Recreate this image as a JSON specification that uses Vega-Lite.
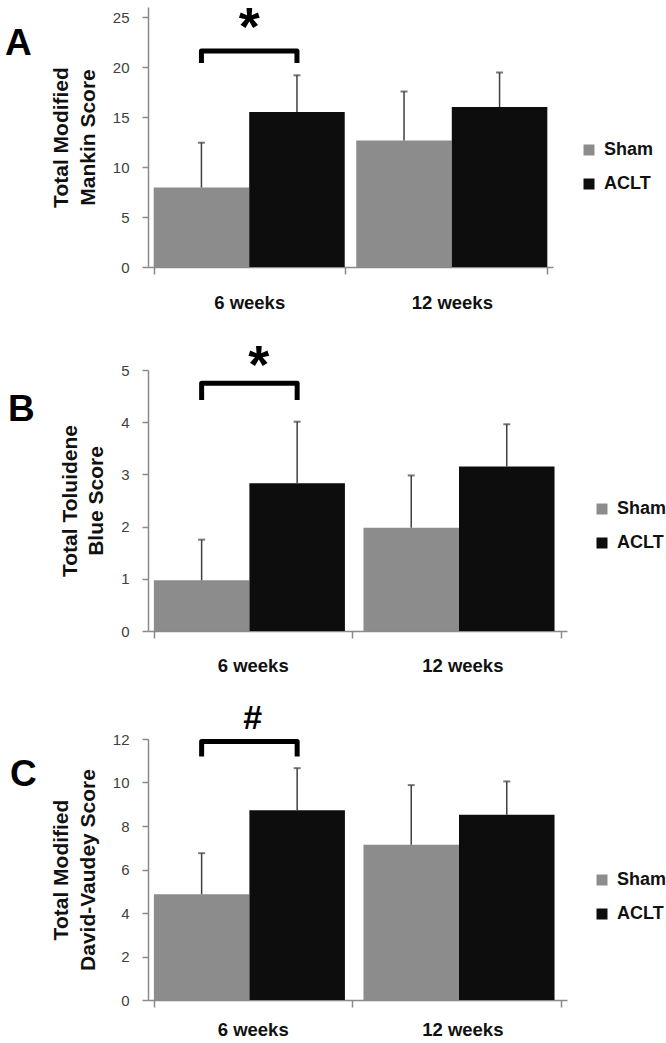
{
  "$schema": "https://vega.github.io/schema/vega-lite/v6.json",
  "padding": {"left": 5, "top": 2, "right": 0, "bottom": 0},
  "autosize": {"type": "pad"},
  "spacing": 27,
  "resolve": {"scale": {"color": "independent"}, "legend": {"color": "independent"}},
  "config": {"view": {"stroke": null}, "font": "Liberation Sans"},
  "datasets": {
    "A": [
      {"week": "6 weeks", "group": "Sham", "mean": 7.95, "upper": 12.43},
      {"week": "6 weeks", "group": "ACLT", "mean": 15.51, "upper": 19.17},
      {"week": "12 weeks", "group": "Sham", "mean": 12.66, "upper": 17.56},
      {"week": "12 weeks", "group": "ACLT", "mean": 15.99, "upper": 19.45}
    ],
    "B": [
      {"week": "6 weeks", "group": "Sham", "mean": 0.97, "upper": 1.75},
      {"week": "6 weeks", "group": "ACLT", "mean": 2.83, "upper": 4.01},
      {"week": "12 weeks", "group": "Sham", "mean": 1.98, "upper": 2.98},
      {"week": "12 weeks", "group": "ACLT", "mean": 3.15, "upper": 3.96}
    ],
    "C": [
      {"week": "6 weeks", "group": "Sham", "mean": 4.86, "upper": 6.75},
      {"week": "6 weeks", "group": "ACLT", "mean": 8.72, "upper": 10.66},
      {"week": "12 weeks", "group": "Sham", "mean": 7.14, "upper": 9.88},
      {"week": "12 weeks", "group": "ACLT", "mean": 8.52, "upper": 10.05}
    ],
    "bracketA": [
      {"week": "6 weeks", "group": "Sham", "y": 20.41, "step": 1},
      {"week": "6 weeks", "group": "Sham", "y": 21.6, "step": 2},
      {"week": "6 weeks", "group": "ACLT", "y": 21.6, "step": 3},
      {"week": "6 weeks", "group": "ACLT", "y": 20.41, "step": 4}
    ],
    "bracketB": [
      {"week": "6 weeks", "group": "Sham", "y": 4.425, "step": 1},
      {"week": "6 weeks", "group": "Sham", "y": 4.745, "step": 2},
      {"week": "6 weeks", "group": "ACLT", "y": 4.745, "step": 3},
      {"week": "6 weeks", "group": "ACLT", "y": 4.425, "step": 4}
    ],
    "bracketC": [
      {"week": "6 weeks", "group": "Sham", "y": 11.2, "step": 1},
      {"week": "6 weeks", "group": "Sham", "y": 11.89, "step": 2},
      {"week": "6 weeks", "group": "ACLT", "y": 11.89, "step": 3},
      {"week": "6 weeks", "group": "ACLT", "y": 11.2, "step": 4}
    ],
    "markA": [{"week": "6 weeks", "y": 22.2, "label": "*"}],
    "markB": [{"week": "6 weeks", "y": 4.76, "label": "*"}],
    "markC": [{"week": "6 weeks", "y": 12.44, "label": "#"}]
  },
  "vconcat": [
    {
      "width": 405, "height": 260,
      "title": {"text": "A", "anchor": "start", "frame": "group", "baseline": "alphabetic", "dx": -143, "dy": 90, "offset": 0, "fontSize": 37, "font": "Liberation Sans", "fontWeight": "bold", "color": "#000"},
      "layer": [
        {
          "data": {"name": "A"},
          "mark": {"type": "bar", "strokeWidth": 0},
          "encoding": {
            "x": {"field": "week", "type": "nominal", "scale": {"domain": ["6 weeks", "12 weeks"], "paddingInner": 0.057, "paddingOuter": 0.028},
              "axis": {"title": null, "labelAngle": 0, "tickBand": "extent", "domainColor": "#8a8a8a", "domainWidth": 1.5, "tickColor": "#8a8a8a", "tickWidth": 1.5, "tickSize": 7, "labelFont": "Liberation Sans", "labelFontWeight": "bold", "labelFontSize": 18.5, "labelColor": "#111", "labelPadding": 19}},
            "xOffset": {"field": "group", "type": "nominal", "scale": {"domain": ["Sham", "ACLT"], "paddingInner": 0, "paddingOuter": 0}},
            "y": {"field": "mean", "type": "quantitative", "scale": {"domain": [0, 25]},
              "axis": {"values": [0, 5, 10, 15, 20, 25], "grid": false, "domainColor": "#8a8a8a", "domainWidth": 1.5, "tickColor": "#8a8a8a", "tickWidth": 1.5, "tickSize": 6, "labelFont": "Liberation Sans", "labelFontSize": 15, "labelColor": "#404040", "labelPadding": 13, "title": ["Total Modified", "Mankin Score"], "titleFont": "Liberation Sans", "titleFontSize": 21, "titleFontWeight": "bold", "titleColor": "#111", "titlePadding": 14, "titleLineHeight": 26.6}},
            "color": {"field": "group", "type": "nominal", "scale": {"domain": ["Sham", "ACLT"], "range": ["#8c8c8c", "#0d0d0d"]},
              "legend": {"orient": "none", "legendX": 432, "legendY": 134, "title": null, "symbolType": "square", "symbolSize": 121, "symbolStrokeWidth": 0, "symbolOpacity": 1, "labelFont": "Liberation Sans", "labelFontSize": 18, "labelFontWeight": "bold", "labelColor": "#111", "rowPadding": 16, "labelOffset": 6, "padding": 0}}
          }
        },
        {
          "data": {"name": "A"},
          "mark": {"type": "rule", "color": "#404040", "strokeWidth": 1.5},
          "encoding": {
            "x": {"field": "week", "type": "nominal"},
            "xOffset": {"field": "group", "type": "nominal"},
            "y": {"field": "mean", "type": "quantitative"},
            "y2": {"field": "upper"}
          }
        },
        {
          "data": {"name": "A"},
          "mark": {"type": "tick", "color": "#404040", "thickness": 2, "size": 7, "orient": "horizontal"},
          "encoding": {
            "x": {"field": "week", "type": "nominal"},
            "xOffset": {"field": "group", "type": "nominal"},
            "y": {"field": "upper", "type": "quantitative"}
          }
        },
        {
          "data": {"name": "bracketA"},
          "mark": {"type": "line", "color": "#000", "strokeWidth": 5, "strokeJoin": "round", "strokeCap": "butt"},
          "encoding": {
            "x": {"field": "week", "type": "nominal"},
            "xOffset": {"field": "group", "type": "nominal"},
            "y": {"field": "y", "type": "quantitative"},
            "order": {"field": "step", "type": "quantitative"}
          }
        },
        {
          "data": {"name": "markA"},
          "mark": {"type": "text", "font": "Liberation Sans", "fontWeight": "bold", "fontSize": 54, "baseline": "alphabetic", "color": "#000"},
          "encoding": {
            "x": {"field": "week", "type": "nominal"},
            "y": {"field": "y", "type": "quantitative"},
            "text": {"field": "label"}
          }
        }
      ]
    },
    {
      "width": 419, "height": 261,
      "title": {"text": "B", "anchor": "start", "frame": "group", "baseline": "alphabetic", "dx": -140, "dy": 118, "offset": 0, "fontSize": 37, "font": "Liberation Sans", "fontWeight": "bold", "color": "#000"},
      "layer": [
        {
          "data": {"name": "B"},
          "mark": {"type": "bar", "strokeWidth": 0},
          "encoding": {
            "x": {"field": "week", "type": "nominal", "scale": {"domain": ["6 weeks", "12 weeks"], "paddingInner": 0.057, "paddingOuter": 0.028},
              "axis": {"title": null, "labelAngle": 0, "tickBand": "extent", "domainColor": "#8a8a8a", "domainWidth": 1.5, "tickColor": "#8a8a8a", "tickWidth": 1.5, "tickSize": 7, "labelFont": "Liberation Sans", "labelFontWeight": "bold", "labelFontSize": 18.5, "labelColor": "#111", "labelPadding": 18}},
            "xOffset": {"field": "group", "type": "nominal", "scale": {"domain": ["Sham", "ACLT"], "paddingInner": 0, "paddingOuter": 0}},
            "y": {"field": "mean", "type": "quantitative", "scale": {"domain": [0, 5]},
              "axis": {"values": [0, 1, 2, 3, 4, 5], "grid": false, "domainColor": "#8a8a8a", "domainWidth": 1.5, "tickColor": "#8a8a8a", "tickWidth": 1.5, "tickSize": 6, "labelFont": "Liberation Sans", "labelFontSize": 15, "labelColor": "#404040", "labelPadding": 13, "title": ["Total Toluidene", "Blue Score"], "titleFont": "Liberation Sans", "titleFontSize": 21, "titleFontWeight": "bold", "titleColor": "#111", "titlePadding": 14, "titleLineHeight": 26.6}},
            "color": {"field": "group", "type": "nominal", "scale": {"domain": ["Sham", "ACLT"], "range": ["#8c8c8c", "#0d0d0d"]},
              "legend": {"orient": "none", "legendX": 445, "legendY": 130, "title": null, "symbolType": "square", "symbolSize": 121, "symbolStrokeWidth": 0, "symbolOpacity": 1, "labelFont": "Liberation Sans", "labelFontSize": 18, "labelFontWeight": "bold", "labelColor": "#111", "rowPadding": 16, "labelOffset": 6, "padding": 0}}
          }
        },
        {
          "data": {"name": "B"},
          "mark": {"type": "rule", "color": "#404040", "strokeWidth": 1.5},
          "encoding": {
            "x": {"field": "week", "type": "nominal"},
            "xOffset": {"field": "group", "type": "nominal"},
            "y": {"field": "mean", "type": "quantitative"},
            "y2": {"field": "upper"}
          }
        },
        {
          "data": {"name": "B"},
          "mark": {"type": "tick", "color": "#404040", "thickness": 2, "size": 7, "orient": "horizontal"},
          "encoding": {
            "x": {"field": "week", "type": "nominal"},
            "xOffset": {"field": "group", "type": "nominal"},
            "y": {"field": "upper", "type": "quantitative"}
          }
        },
        {
          "data": {"name": "bracketB"},
          "mark": {"type": "line", "color": "#000", "strokeWidth": 5, "strokeJoin": "round", "strokeCap": "butt"},
          "encoding": {
            "x": {"field": "week", "type": "nominal"},
            "xOffset": {"field": "group", "type": "nominal"},
            "y": {"field": "y", "type": "quantitative"},
            "order": {"field": "step", "type": "quantitative"}
          }
        },
        {
          "data": {"name": "markB"},
          "mark": {"type": "text", "font": "Liberation Sans", "fontWeight": "bold", "fontSize": 54, "baseline": "alphabetic", "color": "#000", "dx": 6},
          "encoding": {
            "x": {"field": "week", "type": "nominal"},
            "y": {"field": "y", "type": "quantitative"},
            "text": {"field": "label"}
          }
        }
      ]
    },
    {
      "width": 419, "height": 261,
      "title": {"text": "C", "anchor": "start", "frame": "group", "baseline": "alphabetic", "dx": -138, "dy": 121, "offset": 0, "fontSize": 37, "font": "Liberation Sans", "fontWeight": "bold", "color": "#000"},
      "layer": [
        {
          "data": {"name": "C"},
          "mark": {"type": "bar", "strokeWidth": 0},
          "encoding": {
            "x": {"field": "week", "type": "nominal", "scale": {"domain": ["6 weeks", "12 weeks"], "paddingInner": 0.057, "paddingOuter": 0.028},
              "axis": {"title": null, "labelAngle": 0, "tickBand": "extent", "domainColor": "#8a8a8a", "domainWidth": 1.5, "tickColor": "#8a8a8a", "tickWidth": 1.5, "tickSize": 7, "labelFont": "Liberation Sans", "labelFontWeight": "bold", "labelFontSize": 18.5, "labelColor": "#111", "labelPadding": 13}},
            "xOffset": {"field": "group", "type": "nominal", "scale": {"domain": ["Sham", "ACLT"], "paddingInner": 0, "paddingOuter": 0}},
            "y": {"field": "mean", "type": "quantitative", "scale": {"domain": [0, 12]},
              "axis": {"values": [0, 2, 4, 6, 8, 10, 12], "grid": false, "domainColor": "#8a8a8a", "domainWidth": 1.5, "tickColor": "#8a8a8a", "tickWidth": 1.5, "tickSize": 6, "labelFont": "Liberation Sans", "labelFontSize": 15, "labelColor": "#404040", "labelPadding": 13, "title": ["Total Modified", "David-Vaudey Score"], "titleFont": "Liberation Sans", "titleFontSize": 21, "titleFontWeight": "bold", "titleColor": "#111", "titlePadding": 14, "titleLineHeight": 26.6}},
            "color": {"field": "group", "type": "nominal", "scale": {"domain": ["Sham", "ACLT"], "range": ["#8c8c8c", "#0d0d0d"]},
              "legend": {"orient": "none", "legendX": 445, "legendY": 132, "title": null, "symbolType": "square", "symbolSize": 121, "symbolStrokeWidth": 0, "symbolOpacity": 1, "labelFont": "Liberation Sans", "labelFontSize": 18, "labelFontWeight": "bold", "labelColor": "#111", "rowPadding": 16, "labelOffset": 6, "padding": 0}}
          }
        },
        {
          "data": {"name": "C"},
          "mark": {"type": "rule", "color": "#404040", "strokeWidth": 1.5},
          "encoding": {
            "x": {"field": "week", "type": "nominal"},
            "xOffset": {"field": "group", "type": "nominal"},
            "y": {"field": "mean", "type": "quantitative"},
            "y2": {"field": "upper"}
          }
        },
        {
          "data": {"name": "C"},
          "mark": {"type": "tick", "color": "#404040", "thickness": 2, "size": 7, "orient": "horizontal"},
          "encoding": {
            "x": {"field": "week", "type": "nominal"},
            "xOffset": {"field": "group", "type": "nominal"},
            "y": {"field": "upper", "type": "quantitative"}
          }
        },
        {
          "data": {"name": "bracketC"},
          "mark": {"type": "line", "color": "#000", "strokeWidth": 5, "strokeJoin": "round", "strokeCap": "butt"},
          "encoding": {
            "x": {"field": "week", "type": "nominal"},
            "xOffset": {"field": "group", "type": "nominal"},
            "y": {"field": "y", "type": "quantitative"},
            "order": {"field": "step", "type": "quantitative"}
          }
        },
        {
          "data": {"name": "markC"},
          "mark": {"type": "text", "font": "Liberation Sans", "fontWeight": "bold", "fontSize": 34, "baseline": "alphabetic", "color": "#000"},
          "encoding": {
            "x": {"field": "week", "type": "nominal"},
            "y": {"field": "y", "type": "quantitative"},
            "text": {"field": "label"}
          }
        }
      ]
    }
  ]
}
